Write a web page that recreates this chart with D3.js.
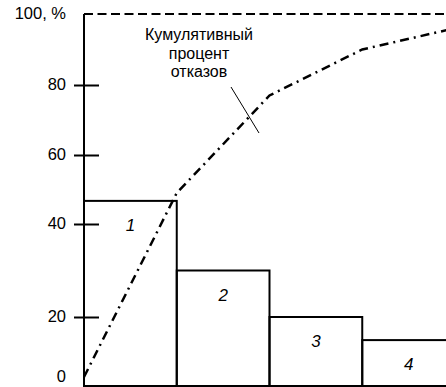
<!DOCTYPE html>
<html>
<head>
<meta charset="utf-8">
<script src="https://cdn.jsdelivr.net/npm/d3@7"></script>
<style>
  html, body { margin: 0; padding: 0; background: #fff; }
  svg { display: block; }
  text { font-family: "Liberation Sans", Arial, Helvetica, sans-serif; fill: #000; }
</style>
</head>
<body>
<div id="chart"></div>
<script>
// ---- data ----
const categories = ["1", "2", "3", "4"];
const failurePercent = [46.7, 30, 20, 12.3];          // bar heights, %
const cumulativePercent = [0, 49, 77, 90, 96];        // cumulative line at bar edges, %
const yTickValues = [0, 20, 40, 60, 80, 100];
const yTickLabels = ["0", "20", "40", "60", "80", "100, %"];
const annotationLines = ["Кумулятивный", "процент", "отказов"];

// ---- layout ----
const W = 446, H = 387;
const plotLeft = 84, plotRight = 455, plotTop = 14, plotBase = 386;

const svg = d3.select("#chart").append("svg")
  .attr("width", W).attr("height", H);

const x = d3.scaleBand().domain(categories).range([plotLeft, plotRight]).padding(0);
// hand-drawn, non-uniform value axis of the original figure
const y = d3.scaleLinear()
  .domain(yTickValues)
  .range([377, 317, 224, 155, 85, plotTop]);

// bars
svg.append("g").selectAll("rect")
  .data(categories)
  .join("rect")
  .attr("x", d => x(d))
  .attr("y", (d, i) => y(failurePercent[i]))
  .attr("width", x.bandwidth())
  .attr("height", (d, i) => plotBase - y(failurePercent[i]))
  .attr("fill", "none")
  .attr("stroke", "#000")
  .attr("stroke-width", 2);

// bar labels
svg.append("g").selectAll("text")
  .data(categories)
  .join("text")
  .attr("x", d => x(d) + x.bandwidth() / 2)
  .attr("y", (d, i) => y(failurePercent[i]) + 30)
  .attr("text-anchor", "middle")
  .attr("font-size", 17)
  .attr("font-style", "italic")
  .text(d => d);

// top 100% dashed line
svg.append("line")
  .attr("x1", plotLeft).attr("x2", W)
  .attr("y1", y(100)).attr("y2", y(100))
  .attr("stroke", "#000").attr("stroke-width", 2)
  .attr("stroke-dasharray", "9,4.5");

// baseline
svg.append("line")
  .attr("x1", plotLeft).attr("x2", W)
  .attr("y1", plotBase).attr("y2", plotBase)
  .attr("stroke", "#000").attr("stroke-width", 2);

// y axis
const axis = d3.axisLeft(y)
  .tickValues(yTickValues)
  .tickFormat((d, i) => yTickLabels[i])
  .tickSizeOuter(0)
  .tickSizeInner(10)
  .tickPadding(8);

const gAxis = svg.append("g")
  .attr("transform", `translate(${plotLeft},0)`)
  .call(axis);
gAxis.select(".domain").remove();
gAxis.selectAll(".tick line")
  .attr("x1", 15).attr("x2", -10)
  .attr("stroke", "#000").attr("stroke-width", 2)
  .attr("display", d => (d === 0 || d === 100) ? "none" : null);
gAxis.selectAll(".tick text")
  .attr("font-size", 16.5)
  .attr("font-family", "'Liberation Sans', Arial, Helvetica, sans-serif")
  .attr("fill", "#000")
  .attr("dy", "0.25em");

svg.append("line")
  .attr("x1", plotLeft).attr("x2", plotLeft)
  .attr("y1", plotTop).attr("y2", plotBase)
  .attr("stroke", "#000").attr("stroke-width", 2);

// cumulative line (dash-dot)
const cumX = [plotLeft].concat(categories.map(c => x(c) + x.bandwidth()));
const line = d3.line().x((d, i) => cumX[i]).y(d => y(d));
svg.append("path")
  .datum(cumulativePercent)
  .attr("d", line)
  .attr("fill", "none")
  .attr("stroke", "#000")
  .attr("stroke-width", 2.5)
  .attr("stroke-dasharray", "9,5,2,5");

// annotation
const ann = svg.append("text")
  .attr("text-anchor", "middle")
  .attr("font-size", 16);
annotationLines.forEach((t, i) => {
  ann.append("tspan")
    .attr("x", 199)
    .attr("y", 40 + i * 18.5)
    .text(t);
});
svg.append("line")
  .attr("x1", 231).attr("y1", 87)
  .attr("x2", 259).attr("y2", 133)
  .attr("stroke", "#000").attr("stroke-width", 1);
</script>
</body>
</html>
